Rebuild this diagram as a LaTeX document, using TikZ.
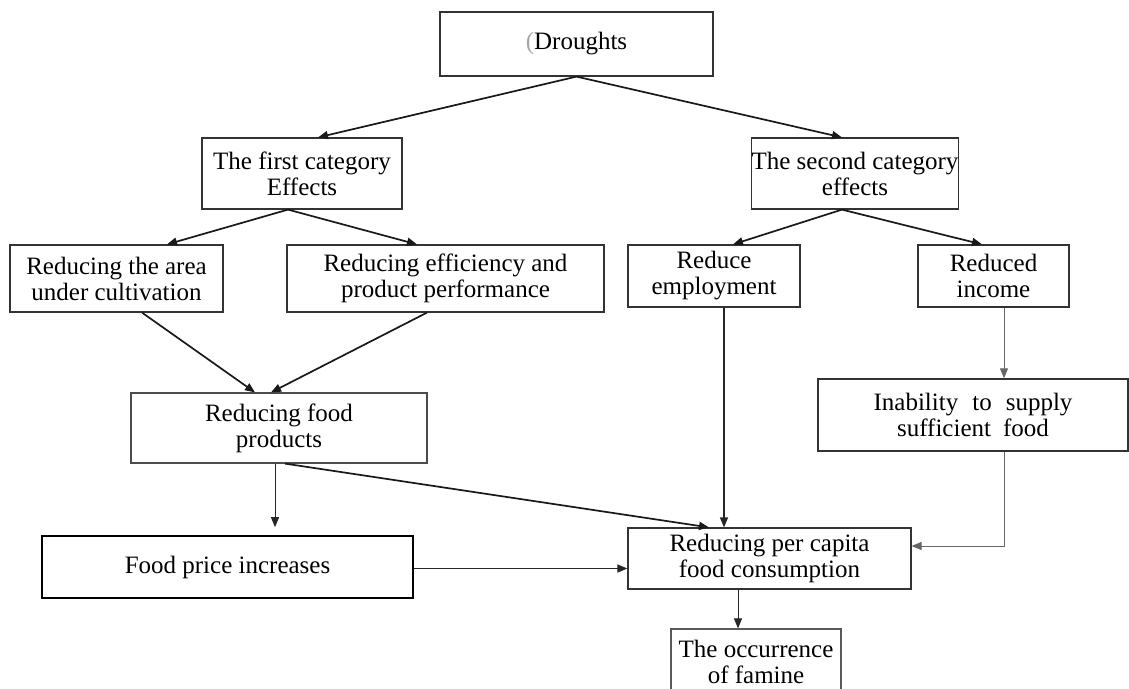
\documentclass[tikz,border=0pt]{standalone}
\usepackage{fontspec}
\setmainfont{Liberation Serif}
\usetikzlibrary{arrows.meta,calc}
\newcommand{\boxfontsel}{\fontsize{25}{26}\selectfont\lineskiplimit=-20pt\relax}
\begin{document}
\begin{tikzpicture}[x=1pt,y=-1pt,
  box/.style={draw=black!80,line width=1.2pt,inner sep=0pt,align=center,
    font=\boxfontsel},
  arr/.style={-{Triangle[length=10pt,width=8pt]},line width=1.7pt,draw=black!90},
  varr/.style={-{Triangle[length=10pt,width=8pt]},line width=1pt,draw=black!85}]
\clip (0,0) rectangle (1129,688);
\fill[white] (0,0) rectangle (1129,688);

% nodes
\node[box,minimum width=273pt,minimum height=64pt] (drought) at (576.5,44) {\textcolor{black!35}{(}Droughts};
\node[box,minimum width=200pt,minimum height=71pt] (cat1) at (302,173.5) {The first category\\Effects};
\node[box,minimum width=206pt,minimum height=71pt] (cat2) at (855,173.5) {The second category\\effects};
\node[box,minimum width=213pt,minimum height=67pt] (area) at (116.5,278.5) {Reducing the area\\under cultivation};
\node[box,minimum width=317pt,minimum height=67pt] (eff) at (445.5,278.5) {Reducing efficiency and\\product performance};
\node[box,minimum width=172pt,minimum height=62pt] (emp) at (714,276) {Reduce\\employment};
\node[box,minimum width=151pt,minimum height=62pt] (inc) at (993.5,276) {Reduced\\income};
\node[box,line width=1.5pt,minimum width=310pt,minimum height=72pt] (inab) at (973,415) {Inability\hspace{14pt}to\hspace{14pt}supply\\sufficient\hspace{12pt}food};
\node[box,draw=black!70,minimum width=296pt,minimum height=70pt] (food) at (279,428) {Reducing food\\products};
\node[box,line width=1.6pt,draw=black,minimum width=371pt,minimum height=62pt] (price) at (227.5,567) {Food price increases};
\node[box,minimum width=283pt,minimum height=61pt] (percap) at (769.5,558.5) {Reducing per capita\\food consumption};
\node[box,draw=black!65,minimum width=170pt,minimum height=65pt] (famine) at (756,661.5) {The occurrence\\of famine};

% connectors
\draw[arr] (drought.south) -- ($(cat1.north)+(16,0)$);
\draw[arr] (drought.south) -- ($(cat2.north)+(-13,0)$);
\draw[arr] ($(cat1.south)+(-14,0)$) -- ($(area.north)+(50.5,0)$);
\draw[arr] ($(cat1.south)+(-14,0)$) -- ($(eff.north)+(-28.5,0)$);
\draw[arr] ($(cat2.south)+(-13,0)$) -- ($(emp.north)+(19,0)$);
\draw[arr] ($(cat2.south)+(-13,0)$) -- ($(inc.north)+(-11.5,0)$);
\draw[arr] ($(area.south)+(25.5,0)$) -- ($(food.north)+(-24,0)$);
\draw[arr] ($(eff.south)+(-18.5,0)$) -- ($(food.north)+(-8,0)$);
\draw[varr,shorten >=8pt] ($(food.south)+(-4,0)$) coordinate (f1) -- (f1 |- price.north);
\draw[arr] ($(food.south)+(6,0)$) -- ($(percap.north)+(-60.5,0)$);
\draw[varr,line width=1.3pt] ($(emp.south)+(10,0)$) coordinate (e1) -- (e1 |- percap.north);
\draw[varr,line width=1.4pt] ($(price.east)+(0,1.5)$) coordinate (p1) -- (p1 -| percap.west);
\draw[varr,draw=black!60] ($(inc.south)+(10.5,0)$) coordinate (i1) -- (i1 |- inab.north);
\draw[varr,draw=black!60] ($(inab.south)+(31,0)$) |- ($(percap.east)+(0,-12.5)$);
\draw[varr] ($(percap.south)+(-31.5,0)$) coordinate (c1) -- (c1 |- famine.north);
\end{tikzpicture}
\end{document}
